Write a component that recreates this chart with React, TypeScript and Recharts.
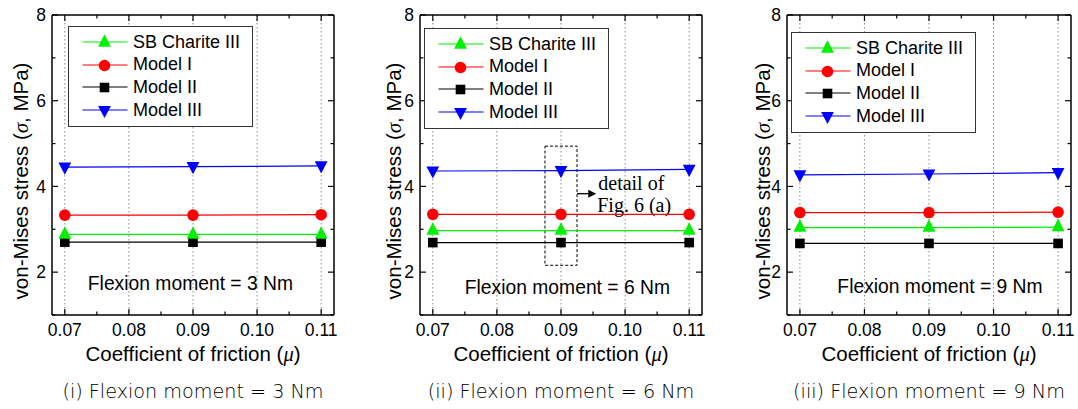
import {
  LineChart,
  Line,
  XAxis,
  YAxis,
  CartesianGrid,
  Legend,
  ReferenceArea,
  ReferenceLine,
  ReferenceDot,
} from "recharts";

// friction coefficients that were simulated
const FRICTION = [0.07, 0.09, 0.11];
const X_TICKS = [0.07, 0.075, 0.08, 0.085, 0.09, 0.095, 0.1, 0.105, 0.11];
const X_GRID = [0.07, 0.08, 0.09, 0.1, 0.11];
const Y_TICKS = [1, 2, 3, 4, 5, 6, 7, 8];

// von-Mises stress (MPa), flexion 3 Nm
const SB_3NM = [2.88, 2.88, 2.88];
const M1_3NM = [3.33, 3.33, 3.34];
const M2_3NM = [2.7, 2.7, 2.7];
const M3_3NM = [4.45, 4.46, 4.48];

// flexion 6 Nm
const SB_6NM = [2.97, 2.97, 2.97];
const M1_6NM = [3.35, 3.35, 3.35];
const M2_6NM = [2.69, 2.69, 2.69];
const M3_6NM = [4.36, 4.37, 4.4];

// flexion 9 Nm
const SB_9NM = [3.04, 3.04, 3.05];
const M1_9NM = [3.39, 3.39, 3.4];
const M2_9NM = [2.67, 2.67, 2.67];
const M3_9NM = [4.27, 4.29, 4.32];

const FONT = "'Liberation Sans', Arial, sans-serif";
const SERIF = "'Liberation Serif', 'Times New Roman', serif";

type Shape = "up" | "circle" | "square" | "down";

const SERIES: { key: string; name: string; color: string; shape: Shape }[] = [
  { key: "sb", name: "SB Charite III", color: "#00f000", shape: "up" },
  { key: "m1", name: "Model I", color: "#ff0000", shape: "circle" },
  { key: "m2", name: "Model II", color: "#000000", shape: "square" },
  { key: "m3", name: "Model III", color: "#0000ff", shape: "down" },
];
// squares first so the triangles sit on top of them
const DRAW_ORDER = ["m2", "sb", "m1", "m3"];

// margins are 1px short on every side: each of the four axes is 1px thick
const PANELS = [
  {
    roman: "i",
    moment: 3,
    values: { sb: SB_3NM, m1: M1_3NM, m2: M2_3NM, m3: M3_3NM } as Record<string, number[]>,
    left: 0,
    width: 360,
    margin: { top: 14, right: 25, bottom: 59, left: 51 },
    yGap: 31,
    legend: { left: 68, top: 26 },
    note: { x: 0.0896, y: 1.74 },
    detail: false,
  },
  {
    roman: "ii",
    moment: 6,
    values: { sb: SB_6NM, m1: M1_6NM, m2: M2_6NM, m3: M3_6NM } as Record<string, number[]>,
    left: 360,
    width: 360,
    margin: { top: 14, right: 17, bottom: 59, left: 59 },
    yGap: 26,
    legend: { left: 64, top: 28 },
    note: { x: 0.091, y: 1.65 },
    detail: true,
  },
  {
    roman: "iii",
    moment: 9,
    values: { sb: SB_9NM, m1: M1_9NM, m2: M2_9NM, m3: M3_9NM } as Record<string, number[]>,
    left: 720,
    width: 358,
    margin: { top: 14, right: 6, bottom: 59, left: 66 },
    yGap: 24,
    legend: { left: 71, top: 32 },
    note: { x: 0.0917, y: 1.67 },
    detail: false,
  },
];

const CHART_H = 375;

function Marker({ shape, cx, cy, color }: { shape: Shape; cx: number; cy: number; color: string }) {
  if (shape === "up")
    return <polygon points={`${cx},${cy - 8.3} ${cx + 6.4},${cy + 4.2} ${cx - 6.4},${cy + 4.2}`} fill={color} />;
  if (shape === "down")
    return <polygon points={`${cx - 6.4},${cy - 4.6} ${cx + 6.4},${cy - 4.6} ${cx},${cy + 7.6}`} fill={color} />;
  if (shape === "circle") return <circle cx={cx} cy={cy} r={5.8} fill={color} />;
  return <rect x={cx - 4.8} y={cy - 4.8} width={9.6} height={9.6} fill={color} />;
}

const isMajorX = (v: number) => Math.abs(v * 100 - Math.round(v * 100)) < 1e-6;
const isMajorY = (v: number) => v % 2 === 0;

// ticks point into the plot, like the original Origin figure
function BottomTick({ x, y, payload }: any) {
  const major = isMajorX(payload.value);
  return (
    <g>
      <line x1={x} x2={x} y1={y} y2={y - (major ? 6 : 3.5)} stroke="#000" strokeWidth={1.2} />
      {major && (
        <text x={x} y={y + 21} textAnchor="middle" fontSize={17.5} fontFamily={FONT} fill="#000">
          {payload.value.toFixed(2)}
        </text>
      )}
    </g>
  );
}

function TopTick({ x, y, payload }: any) {
  const major = isMajorX(payload.value);
  return <line x1={x} x2={x} y1={y} y2={y + (major ? 6 : 3.5)} stroke="#000" strokeWidth={1.2} />;
}

function LeftTick({ x, y, payload }: any) {
  const major = isMajorY(payload.value);
  return (
    <g>
      <line x1={x} x2={x + (major ? 6 : 3.5)} y1={y} y2={y} stroke="#000" strokeWidth={1.2} />
      {major && (
        <text x={x - 6} y={y + 6.3} textAnchor="end" fontSize={17.5} fontFamily={FONT} fill="#000">
          {payload.value}
        </text>
      )}
    </g>
  );
}

function RightTick({ x, y, payload }: any) {
  const major = isMajorY(payload.value);
  return <line x1={x} x2={x - (major ? 6 : 3.5)} y1={y} y2={y} stroke="#000" strokeWidth={1.2} />;
}

function LegendBox() {
  return (
    <div
      style={{
        width: 185,
        height: 101,
        boxSizing: "border-box",
        border: "1.5px solid #333",
        background: "#fff",
        paddingTop: 4,
        fontFamily: FONT,
        fontSize: 18,
        color: "#000",
      }}
    >
      {SERIES.map((s) => (
        <div key={s.key} style={{ display: "flex", alignItems: "center", height: 22.6 }}>
          <svg width={62} height={20} style={{ display: "block" }}>
            <line x1={13.5} x2={58.5} y1={10} y2={10} stroke={s.color} strokeWidth={1.2} />
            <Marker shape={s.shape} cx={35.5} cy={10.5} color={s.color} />
          </svg>
          <span style={{ marginLeft: 2, whiteSpace: "nowrap" }}>{s.name}</span>
        </div>
      ))}
    </div>
  );
}

function Panel({ p }: { p: (typeof PANELS)[number] }) {
  const data = FRICTION.map((mu, i) => {
    const row: Record<string, number> = { mu };
    for (const s of SERIES) row[s.key] = p.values[s.key][i];
    return row;
  });
  const plotLeft = p.margin.left + 1;
  const plotW = p.width - p.margin.left - p.margin.right - 2;

  return (
    <div style={{ position: "absolute", left: p.left, top: 0, width: p.width, height: 409 }}>
      <LineChart width={p.width} height={CHART_H} data={data} margin={p.margin}>
        <CartesianGrid
          horizontal={false}
          vertical
          verticalValues={X_GRID}
          stroke="#8a8a8a"
          strokeDasharray="1.5 2.5"
        />
        <XAxis
          dataKey="mu"
          type="number"
          domain={[0.068, 0.112]}
          allowDataOverflow
          ticks={X_TICKS}
          interval={0}
          height={1}
          tickSize={0}
          tickMargin={0}
          tick={<BottomTick />}
          axisLine={{ stroke: "#000", strokeWidth: 1.5 }}
          label={({ viewBox }: any) => (
            <text
              x={viewBox.x + viewBox.width / 2}
              y={viewBox.y + 46}
              textAnchor="middle"
              fontSize={20.5}
              fontFamily={FONT}
              fill="#000"
            >
              Coefficient of friction (
              <tspan fontFamily={SERIF} fontStyle="italic">
                μ
              </tspan>
              )
            </text>
          )}
        />
        <XAxis
          xAxisId="top"
          orientation="top"
          dataKey="mu"
          type="number"
          domain={[0.068, 0.112]}
          allowDataOverflow
          ticks={X_TICKS}
          interval={0}
          height={1}
          tickSize={0}
          tickMargin={0}
          tick={<TopTick />}
          axisLine={{ stroke: "#000", strokeWidth: 1.5 }}
        />
        <YAxis
          type="number"
          domain={[1, 8]}
          allowDataOverflow
          ticks={Y_TICKS}
          interval={0}
          width={1}
          tickSize={0}
          tickMargin={0}
          tick={<LeftTick />}
          axisLine={{ stroke: "#000", strokeWidth: 1.5 }}
          label={({ viewBox }: any) => {
            const cx = viewBox.x + viewBox.width - p.yGap;
            const cy = viewBox.y + viewBox.height / 2 + 16;
            return (
              <text
                x={cx}
                y={cy + 7}
                transform={`rotate(-90 ${cx} ${cy})`}
                textAnchor="middle"
                fontSize={20.5}
                fontFamily={FONT}
                fill="#000"
              >
                von-Mises stress (
                <tspan fontFamily={SERIF} fontStyle="italic">
                  σ
                </tspan>
                , MPa)
              </text>
            );
          }}
        />
        <YAxis
          yAxisId="right"
          orientation="right"
          type="number"
          domain={[1, 8]}
          allowDataOverflow
          ticks={Y_TICKS}
          interval={0}
          width={1}
          tickSize={0}
          tickMargin={0}
          tick={<RightTick />}
          axisLine={{ stroke: "#000", strokeWidth: 1.5 }}
        />

        {p.detail && (
          <ReferenceArea
            x1={0.0875}
            x2={0.0925}
            y1={2.16}
            y2={4.94}
            fill="none"
            stroke="#000"
            strokeWidth={1}
            strokeDasharray="3 2"
          />
        )}
        {p.detail && (
          <ReferenceLine
            segment={[
              { x: 0.0925, y: 3.83 },
              { x: 0.0955, y: 3.83 },
            ]}
            shape={(s: any) => (
              <g>
                <line x1={s.x1} x2={s.x2 - 6} y1={s.y1} y2={s.y2} stroke="#000" strokeWidth={1.3} />
                <polygon points={`${s.x2},${s.y2} ${s.x2 - 8},${s.y2 - 4} ${s.x2 - 8},${s.y2 + 4}`} fill="#000" />
                <text x={s.x2 + 2} y={s.y2 - 4} fontSize={20} fontFamily={SERIF} fill="#000">
                  detail of
                </text>
                <text x={s.x2 + 1} y={s.y2 + 18} fontSize={20} fontFamily={SERIF} fill="#000">
                  Fig. 6 (a)
                </text>
              </g>
            )}
          />
        )}

        {DRAW_ORDER.map((k) => {
          const s = SERIES.find((d) => d.key === k)!;
          return (
            <Line
              key={s.key}
              dataKey={s.key}
              name={s.name}
              type="linear"
              stroke={s.color}
              strokeWidth={1.2}
              isAnimationActive={false}
              dot={(d: any) => <Marker key={`${s.key}-${d.index}`} shape={s.shape} cx={d.cx} cy={d.cy} color={s.color} />}
              activeDot={false}
            />
          );
        })}

        <ReferenceDot
          x={p.note.x}
          y={p.note.y}
          r={0}
          shape={(d: any) => (
            <text x={d.cx} y={d.cy + 7} textAnchor="middle" fontSize={19.3} fontFamily={FONT} fill="#000">
              {`Flexion moment = ${p.moment} Nm`}
            </text>
          )}
        />

        <Legend
          layout="vertical"
          align="center"
          verticalAlign="middle"
          content={() => <LegendBox />}
          wrapperStyle={{ left: p.legend.left, top: p.legend.top, width: 185, height: 101 }}
        />
      </LineChart>

      <div
        style={{
          position: "absolute",
          top: 381,
          left: plotLeft + plotW / 2 - 160,
          width: 320,
          textAlign: "center",
          fontFamily: "'DejaVu Sans', sans-serif",
          fontWeight: 200,
          fontSize: 19.2,
          lineHeight: "22px",
          color: "#000",
          whiteSpace: "nowrap",
        }}
      >
        {`(${p.roman}) Flexion moment = ${p.moment} Nm`}
      </div>
    </div>
  );
}

export default function App() {
  return (
    <div style={{ position: "absolute", left: 0, top: 0, width: 1078, height: 409, background: "#fff" }}>
      {PANELS.map((p) => (
        <Panel key={p.roman} p={p} />
      ))}
    </div>
  );
}
